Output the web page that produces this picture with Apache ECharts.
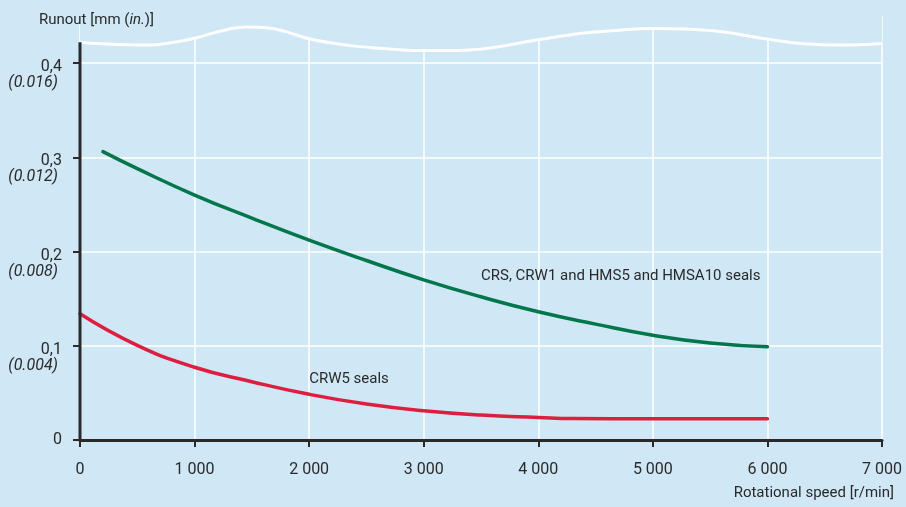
<!DOCTYPE html>
<html>
<head>
<meta charset="utf-8">
<script src="https://cdn.jsdelivr.net/npm/echarts@6/dist/echarts.min.js"></script>
<style>html,body{margin:0;padding:0;background:#d0e7f6;}#c{width:906px;height:507px;}</style>
</head>
<body>
<div id="c"></div>
<script>
// ---- data ----
const speeds = [200, 500, 1000, 1500, 2000, 2500, 3000, 3500, 4000, 4500, 5000, 5500, 6000];
const crsSeals = [0.306, 0.288, 0.260, 0.2355, 0.2122, 0.1905, 0.1700, 0.1520, 0.1361, 0.1230, 0.1112, 0.1030, 0.0990];
const crw5Speeds = [0, 500, 1000, 1500, 2000, 2500, 3000, 3500, 4000, 4300, 5000, 6000];
const crw5Seals = [0.134, 0.1005, 0.0772, 0.0619, 0.0485, 0.0382, 0.0311, 0.0265, 0.0240, 0.0228, 0.0226, 0.0226];
const breakX = [0, 175, 585, 814, 1019, 1222, 1455, 1629, 1804, 2007, 2328, 2618, 2906, 3200, 3491, 4015, 4364, 4713, 5001, 5525, 5961, 6345, 6633, 7000];
const breakY = [0.4221, 0.4205, 0.4191, 0.4220, 0.4269, 0.4339, 0.4382, 0.4375, 0.4332, 0.4255, 0.4191, 0.4157, 0.4135, 0.4135, 0.4148, 0.4251, 0.4315, 0.4350, 0.4368, 0.4343, 0.4262, 0.4202, 0.4193, 0.4209];
const yTicks = [0, 0.1, 0.2, 0.3, 0.4];
const yTickLabels = ['0', '0,1', '0,2', '0,3', '0,4'];
const yTickInch = ['', '(0.004)', '(0.008)', '(0.012)', '(0.016)'];
const crsLabel = 'CRS, CRW1 and HMS5 and HMSA10 seals';
const crsLabelAt = [3500, 0.174];
const crw5Label = 'CRW5 seals';
const crw5LabelAt = [2000, 0.0647];

// ---- chart ----
const BG = '#d0e7f6';
const INK = '#2a2a2a';
const FONT = 'Roboto';
const chart = echarts.init(document.getElementById('c'));
const pair = (xs, ys) => xs.map((x, i) => [x, ys[i]]);
const fmtThousands = v => String(v).replace(/\B(?=(\d{3})+(?!\d))/g, ' ');

chart.setOption({
  backgroundColor: BG,
  animation: false,
  textStyle: { fontFamily: FONT, color: INK },
  title: {
    text: '{n|Runout [mm (}{i|in.}{n|)]}',
    left: 34, top: 8,
    textStyle: {
      fontWeight: 'normal',
      rich: {
        n: { fontFamily: FONT, fontSize: 15, color: INK, fontWeight: 'normal' },
        i: { fontFamily: FONT, fontSize: 15, color: INK, fontStyle: 'italic', fontWeight: 'normal' }
      }
    }
  },
  graphic: [{
    type: 'text', right: 12, top: 486,
    style: { text: 'Rotational speed [r/min]', font: '15px Roboto', fill: INK }
  }],
  grid: { left: 80, right: 24, top: 16, bottom: 67 },
  xAxis: {
    type: 'value', min: 0, max: 7000, interval: 1000,
    axisLine: { show: true, lineStyle: { color: INK, width: 3 } },
    axisTick: { show: true, length: 7, lineStyle: { color: INK, width: 2 } },
    axisLabel: { margin: 22, fontSize: 16, color: INK, fontFamily: FONT, formatter: fmtThousands },
    splitLine: { show: true, lineStyle: { color: '#ffffff', width: 1.5 } }
  },
  yAxis: {
    type: 'value', min: 0, max: 0.45, interval: 0.05,
    axisLine: { show: false },
    axisTick: { show: true, length: 7, customValues: yTicks, lineStyle: { color: INK, width: 2 } },
    axisLabel: {
      customValues: yTicks,
      margin: 18, color: INK, fontFamily: FONT,
      formatter: v => {
        const i = yTicks.findIndex(t => Math.abs(t - v) < 1e-9);
        if (i < 0) return '';
        if (!yTickInch[i]) return '{a|' + yTickLabels[i] + '}';
        return '{s| }\n{a|' + yTickLabels[i] + '}\n{b|' + yTickInch[i] + '}';
      },
      rich: {
        s: { fontSize: 10, lineHeight: 24 },
        a: { fontSize: 16, lineHeight: 16, fontFamily: FONT, color: INK, align: 'right' },
        b: { fontSize: 16, lineHeight: 16, fontFamily: FONT, color: INK, fontStyle: 'italic', align: 'right', padding: [0, 4, 0, 0] }
      }
    },
    splitLine: { show: true, lineStyle: { color: '#ffffff', width: 1.5 } }
  },
  series: [
    {
      name: 'break', type: 'line', smooth: 0.4, symbol: 'none', z: 5,
      data: pair(breakX, breakY),
      lineStyle: { color: '#ffffff', width: 3 },
      areaStyle: { color: BG, opacity: 1, origin: 'end' },
      silent: true
    },
    {
      name: 'yAxisLine', type: 'line', symbol: 'none', z: 6,
      data: [[0, 0], [0, breakY[0]]],
      lineStyle: { color: INK, width: 3, cap: 'butt' },
      silent: true
    },
    {
      name: 'CRS, CRW1 and HMS5 and HMSA10', type: 'line', smooth: 0.5, symbol: 'none', z: 4,
      data: pair(speeds, crsSeals),
      lineStyle: { color: '#00774b', width: 3.5, cap: 'round' }
    },
    {
      name: 'CRW5', type: 'line', smooth: 0.5, symbol: 'none', z: 4,
      data: pair(crw5Speeds, crw5Seals),
      lineStyle: { color: '#dc1f3e', width: 3.5, cap: 'round' }
    },
    {
      name: 'labels', type: 'scatter', symbolSize: 0, z: 7, silent: true,
      itemStyle: { opacity: 1 },
      data: [
        { value: crsLabelAt, label: { formatter: crsLabel } },
        { value: crw5LabelAt, label: { formatter: crw5Label } }
      ],
      label: { show: true, position: 'right', distance: 0, fontSize: 15, fontFamily: FONT, color: INK, opacity: 1 }
    }
  ]
});
</script>
</body>
</html>
